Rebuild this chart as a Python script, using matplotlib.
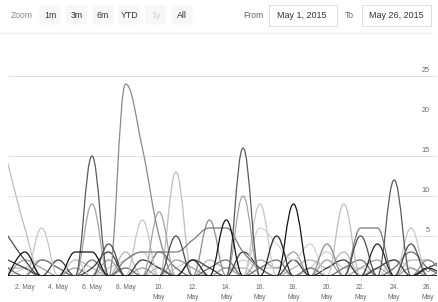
import matplotlib
matplotlib.use("Agg")
import matplotlib.pyplot as plt
from matplotlib.path import Path
from matplotlib.patches import PathPatch, FancyBboxPatch, Rectangle
import matplotlib.transforms as mtransforms

plt.rcParams['font.family'] = ['Liberation Sans', 'DejaVu Sans']

# days of May 2015 (1 .. 27)
days = list(range(1, 28))

# series values, one per day
light_a = [14, 6, 0, 0, 0, 0, 0, 0, 0, 0, 13, 0, 0, 0, 0, 0, 0, 0, 0, 0, 9, 0, 0, 0, 0, 0, 0]
light_b = [0, 0, 6, 0, 0, 0, 0, 0, 7, 0, 0, 0, 0, 0, 0, 9, 0, 0, 0, 0, 0, 0, 0, 0, 6, 0, 0]
dark_a = [0, 0, 0, 0, 0, 15, 0, 0, 0, 0, 0, 0, 0, 0, 16, 0, 0, 0, 0, 0, 0, 0, 0, 12, 0, 0, 0]
mid_a = [0, 0, 0, 0, 0, 9, 0, 0, 0, 8, 0, 0, 0, 0, 10, 0, 0, 0, 0, 0, 0, 0, 0, 0, 0, 0, 0]
mid_b = [0, 0, 0, 0, 0, 0, 0, 24, 16, 5, 0, 0, 0, 0, 0, 0, 0, 0, 0, 0, 0, 0, 0, 0, 0, 0, 0]
black_a = [0, 3, 0, 0, 3, 3, 0, 0, 0, 0, 0, 0, 0, 7, 0, 0, 0, 9, 0, 0, 0, 0, 0, 0, 0, 0, 0]
black_b = [0, 0, 0, 0, 0, 0, 0, 0, 0, 0, 0, 2, 0, 0, 0, 0, 5, 0, 0, 0, 0, 0, 4, 0, 0, 1, 0]
dark_b = [5, 2, 0, 0, 0, 0, 4, 0, 0, 0, 5, 0, 0, 0, 0, 0, 0, 0, 0, 0, 0, 5, 0, 0, 4, 0, 0]
mid_c = [0, 0, 0, 0, 0, 0, 0, 2, 3, 3, 3, 4.5, 6, 6, 3, 1, 0, 0, 0, 0, 0, 6, 6, 0, 0, 0, 0]
mid_d = [0, 0, 0, 0, 0, 0, 0, 0, 0, 0, 0, 0, 7, 0, 0, 0, 0, 0, 0, 4, 0, 0, 0, 0, 0, 2, 0]
pale = [0, 0, 0, 0, 2, 0, 0, 0, 0, 0, 0, 0, 0, 0, 0, 6, 4, 2, 4, 0, 0, 0, 0, 0, 0, 0, 0]
small_a = [2, 1, 0, 2, 0, 1, 3, 0, 2, 1, 0, 2, 1, 0, 3, 1, 0, 2, 0, 1, 2, 0, 1, 2, 0, 1, 2]
small_b = [1, 0, 2, 1, 0, 2, 0, 1, 0, 3, 1, 0, 1, 2, 0, 1, 2, 0, 1, 0, 1, 2, 0, 1, 3, 1, 0]
small_c = [0, 2, 1, 0, 1, 0, 2, 0, 1, 0, 2, 1, 0, 1, 0, 2, 1, 3, 0, 2, 0, 1, 2, 0, 1, 0, 1]
small_d = [1, 1, 0, 0, 2, 1, 0, 3, 0, 1, 0, 0, 2, 1, 1, 0, 0, 1, 2, 1, 3, 0, 1, 0, 2, 2, 0]
small_e = [0, 1, 2, 1, 0, 0, 1, 2, 3, 0, 1, 2, 0, 0, 2, 1, 1, 0, 1, 3, 1, 1, 0, 2, 1, 0, 1]

series = [
    (small_e, '#cfcfcf'), (small_d, '#b5b5b5'), (small_c, '#9c9c9c'),
    (small_b, '#6e6e6e'), (small_a, '#3c3c3c'),
    (pale, '#d2d2d2'), (light_a, '#bdbdbd'), (light_b, '#c6c6c6'),
    (mid_d, '#8c8c8c'), (mid_c, '#7a7a7a'), (mid_a, '#a3a3a3'), (mid_b, '#8a8a8a'),
    (dark_b, '#4d4d4d'), (dark_a, '#5a5a5a'), (black_b, '#262626'), (black_a, '#111111'),
]

tick_days = [2, 4, 6, 8, 10, 12, 14, 16, 18, 20, 22, 24, 26]
tick_labels = ['%d. May' % d if d < 10 else '%d.\nMay' % d for d in tick_days]
y_labels = [0, 5, 10, 15, 20, 25]
grid_vals = [0, 5, 10, 15, 25]


def spline_path(xs, ys):
    # same control point rule as a Highcharts spline
    sm = 1.5
    den = sm + 1
    n = len(xs)
    right = [None] * n
    verts = [(xs[0], ys[0])]
    codes = [Path.MOVETO]
    for i in range(1, n):
        x, y = xs[i], ys[i]
        lx, ly = xs[i - 1], ys[i - 1]
        lcx, lcy = x, y
        if i < n - 1:
            nx, ny = xs[i + 1], ys[i + 1]
            lcx = (sm * x + lx) / den
            lcy = (sm * y + ly) / den
            rcx = (sm * x + nx) / den
            rcy = (sm * y + ny) / den
            corr = (rcy - lcy) * (rcx - x) / (rcx - lcx) + y - rcy
            lcy += corr
            rcy += corr
            if lcy > ly and lcy > y:
                lcy = max(ly, y)
                rcy = 2 * y - lcy
            elif lcy < ly and lcy < y:
                lcy = min(ly, y)
                rcy = 2 * y - lcy
            if rcy > ny and rcy > y:
                rcy = max(ny, y)
                lcy = 2 * y - rcy
            elif rcy < ny and rcy < y:
                rcy = min(ny, y)
                lcy = 2 * y - rcy
            right[i] = (rcx, rcy)
        p0 = right[i - 1] if right[i - 1] is not None else (lx, ly)
        verts += [p0, (lcx, lcy), (x, y)]
        codes += [Path.CURVE4] * 3
    return Path(verts, codes)


W, H = 438, 302
fig = plt.figure(figsize=(W / 100, H / 100), dpi=100)
fig.patch.set_facecolor('white')

ax = fig.add_axes([8 / W, 26 / H, 429 / W, 200 / H])
ax.set_xlim(1, 26.55)
ax.set_ylim(0, 25)
for s in ax.spines.values():
    s.set_visible(False)
ax.set_yticks([])
for g in grid_vals:
    ax.axhline(g, color='#e3e3e3', lw=0.7, zorder=0)
ax.set_xticks(tick_days)
ax.set_xticklabels(tick_labels, fontsize=4.8, color='#666666', linespacing=1.5)
ax.tick_params(axis='x', length=3.5, width=0.5, color='#d6d6d6', pad=2.5)

for vals, col in series:
    ax.add_patch(PathPatch(spline_path(days, vals), fill=False,
                           edgecolor=col, lw=0.9, capstyle='round', joinstyle='round'))

trans = mtransforms.offset_copy(ax.get_yaxis_transform(), fig=fig, x=-7, y=2, units='dots')
for v in y_labels:
    ax.text(1.0, v, str(v), transform=trans, ha='right', va='bottom',
            fontsize=5.2, color='#666666')

# range selector and date inputs, drawn in pixel space
top = fig.add_axes([0, 0, 1, 1], zorder=5)
top.set_xlim(0, W)
top.set_ylim(H, 0)
top.axis('off')
top.patch.set_alpha(0)

top.text(21.5, 15.5, 'Zoom', ha='center', va='center', fontsize=6.2, color='#888888')
buttons = ['1m', '3m', '6m', 'YTD', '1y', 'All']
for i, b in enumerate(buttons):
    cx = 50 + i * 26.4
    top.add_patch(FancyBboxPatch((cx - 10.5, 5.5), 21, 19, boxstyle='round,pad=0,rounding_size=2',
                                 fc='#f7f7f7', ec='none'))
    top.text(cx, 15.5, b, ha='center', va='center', fontsize=6.3,
             color='#cccccc' if b == '1y' else '#333333')

top.plot([0, 432], [33, 33], color='#efefef', lw=0.8)

top.text(253, 15.5, 'From', ha='center', va='center', fontsize=6.2, color='#666666')
top.add_patch(Rectangle((269, 4.5), 68, 21.5, fc='white', ec='#d8d8d8', lw=0.6))
top.text(302, 15.5, 'May 1, 2015', ha='center', va='center', fontsize=6.5, color='#333333')
top.text(349, 15.5, 'To', ha='center', va='center', fontsize=6.2, color='#666666')
top.add_patch(Rectangle((362, 4.5), 69, 21.5, fc='white', ec='#d8d8d8', lw=0.6))
top.text(396, 15.5, 'May 26, 2015', ha='center', va='center', fontsize=6.5, color='#333333')

fig.savefig('out.png', dpi=100)
